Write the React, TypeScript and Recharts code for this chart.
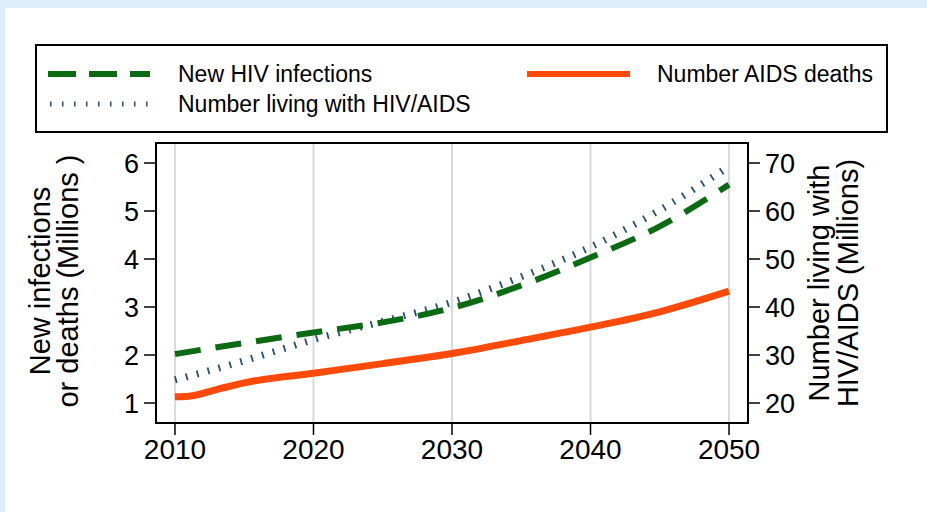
import React from "react";
import {
  LineChart,
  Line,
  XAxis,
  YAxis,
  CartesianGrid,
  ReferenceArea,
} from "recharts";

const years = [2010, 2011, 2013, 2015, 2020, 2025, 2030, 2035, 2040, 2045, 2050];
const newInfections = [2.02, null, null, 2.25, 2.47, 2.68, 2.98, 3.45, 4.03, 4.68, 5.55];
const livingWithHiv = [24.8, null, null, 28.8, 33.2, 37.0, 41.0, 46.3, 52.5, 60.2, 69.3];
const aidsDeaths = [1.13, 1.14, 1.28, 1.42, 1.62, 1.82, 2.03, 2.3, 2.58, 2.9, 3.33];

const xTicks = [2010, 2020, 2030, 2040, 2050];
const leftTicks = [1, 2, 3, 4, 5, 6];
const rightTicks = [20, 30, 40, 50, 60, 70];

const xDomain = [2008.63, 2051.37];
const leftDomain = [0.583, 6.417];
const rightDomain = [15.83, 74.17];

const data = years.map((year, i) => ({
  year,
  infections: newInfections[i],
  living: livingWithHiv[i],
  deaths: aidsDeaths[i],
}));

const font = "'Liberation Sans', Arial, sans-serif";
const GREEN = "#0b6a12";
const BLUE = "#23507e";
const ORANGE = "#ff4a0a";

export default function App() {
  const tickStyle = { fill: "#000", fontSize: 27, fontFamily: font };
  const tickLine = { stroke: "#000", strokeWidth: 1.5 };
  return (
    <div
      style={{
        position: "absolute",
        left: 0,
        top: 0,
        width: 927,
        height: 512,
        background: "#dbeefa",
        overflow: "hidden",
      }}
    >
      <div
        style={{
          position: "absolute",
          left: 5,
          top: 8,
          width: 922,
          height: 504,
          background: "#fff",
        }}
      />
      <div style={{ position: "absolute", left: 0, top: 0 }}>
        <LineChart
          width={927}
          height={512}
          data={data}
          margin={{ top: 143, left: 96, right: 119, bottom: 39 }}
        >
          <CartesianGrid horizontal={false} stroke="#dadada" strokeWidth={2} />
          <XAxis
            dataKey="year"
            type="number"
            domain={xDomain}
            ticks={xTicks}
            allowDataOverflow
            height={50}
            tick={{ ...tickStyle, fontSize: 28 }}
            tickSize={12}
            tickMargin={4}
            tickLine={tickLine}
            axisLine={{ stroke: "#000", strokeWidth: 2 }}
          />
          <YAxis
            yAxisId="left"
            domain={leftDomain}
            ticks={leftTicks}
            allowDataOverflow
            width={60}
            tick={tickStyle}
            tickSize={12}
            tickMargin={5}
            tickLine={tickLine}
            axisLine={{ stroke: "#000", strokeWidth: 2 }}
          />
          <YAxis
            yAxisId="right"
            orientation="right"
            domain={rightDomain}
            ticks={rightTicks}
            allowDataOverflow
            width={60}
            tick={tickStyle}
            tickSize={12}
            tickMargin={5}
            tickLine={tickLine}
            axisLine={{ stroke: "#000", strokeWidth: 2 }}
          />
          <ReferenceArea
            yAxisId="left"
            x1={xDomain[0]}
            x2={xDomain[1]}
            y1={leftDomain[0]}
            y2={leftDomain[1]}
            fill="none"
            stroke="#000"
            strokeWidth={2}
            ifOverflow="visible"
          />
          <Line
            yAxisId="right"
            dataKey="living"
            type="monotone"
            stroke={BLUE}
            strokeWidth={7}
            strokeDasharray="1.8 9.5"
            strokeLinecap="butt"
            dot={false}
            connectNulls
            isAnimationActive={false}
          />
          <Line
            yAxisId="left"
            dataKey="infections"
            type="monotone"
            stroke={GREEN}
            strokeWidth={6}
            strokeDasharray="26 15"
            strokeLinecap="butt"
            dot={false}
            connectNulls
            isAnimationActive={false}
          />
          <Line
            yAxisId="left"
            dataKey="deaths"
            type="monotone"
            stroke={ORANGE}
            strokeWidth={7}
            dot={false}
            isAnimationActive={false}
          />
        </LineChart>
      </div>
      <svg
        width={927}
        height={512}
        style={{ position: "absolute", left: 0, top: 0, pointerEvents: "none" }}
        fontFamily={font}
      >
        <rect x={36} y={45} width={851} height={87} fill="none" stroke="#000" strokeWidth={2} />
        <line x1={48} x2={150} y1={74} y2={74} stroke={GREEN} strokeWidth={6} strokeDasharray="28 13" />
        <text x={178} y={82} fontSize={23} fill="#000">New HIV infections</text>
        <line x1={50} x2={150} y1={104} y2={104} stroke={BLUE} strokeWidth={5} strokeDasharray="1.5 10.5" />
        <text x={178} y={112} fontSize={23} fill="#000">Number living with HIV/AIDS</text>
        <line x1={527} x2={630} y1={74} y2={74} stroke={ORANGE} strokeWidth={6} />
        <text x={657} y={82} fontSize={23} fill="#000">Number AIDS deaths</text>

        <g fontSize={29} fill="#000" textAnchor="middle">
          <text transform="translate(50,281) rotate(-90)">New infections</text>
          <text transform="translate(78,281) rotate(-90)">or deaths (Millions )</text>
          <text transform="translate(829,283) rotate(-90)">Number living with</text>
          <text transform="translate(858,283) rotate(-90)">HIV/AIDS (Millions)</text>
        </g>
      </svg>
    </div>
  );
}
